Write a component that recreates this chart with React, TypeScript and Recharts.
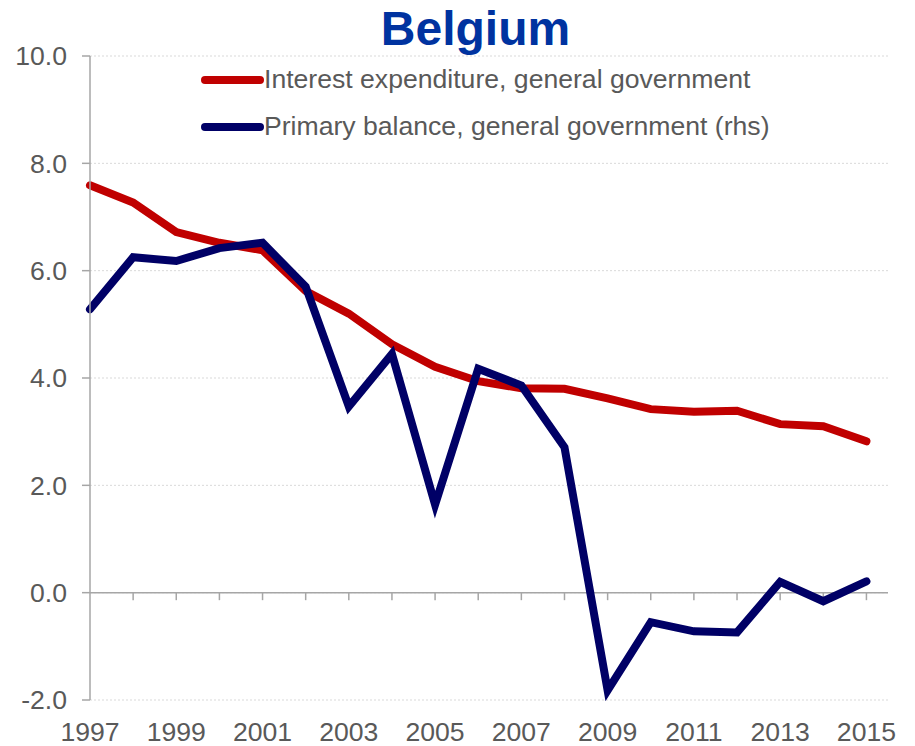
import React from 'react';
import { LineChart, Line, XAxis, YAxis, CartesianGrid, ReferenceLine, Legend } from 'recharts';

const title = 'Belgium';
const years = [1997, 1998, 1999, 2000, 2001, 2002, 2003, 2004, 2005, 2006, 2007, 2008, 2009, 2010, 2011, 2012, 2013, 2014, 2015];
const interestExpenditure = [7.59, 7.27, 6.72, 6.52, 6.38, 5.62, 5.2, 4.63, 4.21, 3.94, 3.81, 3.8, 3.62, 3.42, 3.37, 3.39, 3.14, 3.1, 2.82];
const primaryBalance = [5.28, 6.25, 6.18, 6.42, 6.52, 5.7, 3.47, 4.45, 1.64, 4.17, 3.86, 2.71, -1.82, -0.55, -0.72, -0.74, 0.2, -0.16, 0.21];
const seriesNames = ['Interest expenditure, general government', 'Primary balance, general government (rhs)'];
const seriesColors = ['#C00000', '#000066'];
const yTicks = [-2, 0, 2, 4, 6, 8, 10];
const xTickLabels = [1997, 1999, 2001, 2003, 2005, 2007, 2009, 2011, 2013, 2015];

const data = years.map((year, i) => ({
  year,
  interest: interestExpenditure[i],
  primary: primaryBalance[i],
}));

const FONT = '"Liberation Sans", Arial, sans-serif';
const AXIS_GREY = '#A6A6A6';
const TEXT_GREY = '#595959';
const FS = 26.6;

const LegendContent = (props: any) => {
  const payload = props.payload || [];
  return (
    <svg width={915} height={150} style={{ display: 'block', fontFamily: FONT }}>
      {payload.map((p: any, i: number) => (
        <g key={i}>
          <line x1={205} x2={260} y1={80 + i * 47} y2={80 + i * 47} stroke={p.color} strokeWidth={8} strokeLinecap="round" />
          <text x={264} y={88 + i * 47} fontSize={FS} fill={TEXT_GREY}>{p.value}</text>
        </g>
      ))}
    </svg>
  );
};

export default function App() {
  return (
    <div style={{ position: 'absolute', left: 0, top: 0, width: 915, height: 746, background: '#fff', fontFamily: FONT }}>
      <LineChart width={915} height={746} data={data} margin={{ top: 56, right: 27, bottom: 0, left: 0 }} style={{ fontFamily: FONT }}>
        <CartesianGrid vertical={false} stroke="#D9D9D9" strokeDasharray="2 2" />
        <XAxis
          type="number"
          dataKey="year"
          domain={[1997, 2015.5]}
          ticks={xTickLabels}
          interval={0}
          axisLine={false}
          tickLine={false}
          height={46}
          tickSize={6}
          tickMargin={16}
          tick={{ fill: TEXT_GREY, fontSize: FS }}
        />
        <YAxis
          domain={[-2, 10]}
          ticks={yTicks}
          interval={0}
          width={90}
          tickSize={8}
          tickMargin={15}
          axisLine={{ stroke: AXIS_GREY, strokeWidth: 1.5 }}
          tickLine={{ stroke: AXIS_GREY, strokeWidth: 1.5 }}
          tick={{ fill: TEXT_GREY, fontSize: FS }}
          tickFormatter={(v: number) => v.toFixed(1)}
        />
        <ReferenceLine y={0} stroke={AXIS_GREY} strokeWidth={1.5} />
        {years.slice(1).map((yr) => (
          <ReferenceLine
            key={yr}
            segment={[{ x: yr, y: 0 }, { x: yr, y: -0.14 }]}
            stroke={AXIS_GREY}
            strokeWidth={1.5}
          />
        ))}
        <Legend
          layout="horizontal"
          verticalAlign="middle"
          align="center"
          content={<LegendContent />}
          wrapperStyle={{ position: 'absolute', top: 0, left: 0, width: 915, height: 150 }}
        />
        <Line
          type="linear"
          dataKey="interest"
          name={seriesNames[0]}
          stroke={seriesColors[0]}
          strokeWidth={8}
          strokeLinecap="round"
          dot={false}
          activeDot={false}
          isAnimationActive={false}
        />
        <Line
          type="linear"
          dataKey="primary"
          name={seriesNames[1]}
          stroke={seriesColors[1]}
          strokeWidth={8}
          strokeLinecap="round"
          dot={false}
          activeDot={false}
          isAnimationActive={false}
        />
      </LineChart>
      <svg width={915} height={60} style={{ position: 'absolute', left: 0, top: 0 }}>
        <text x={475.5} y={45} textAnchor="middle" fontSize={48} fontWeight="bold" fill="#0033A0" fontFamily={FONT}>
          {title}
        </text>
      </svg>
    </div>
  );
}
